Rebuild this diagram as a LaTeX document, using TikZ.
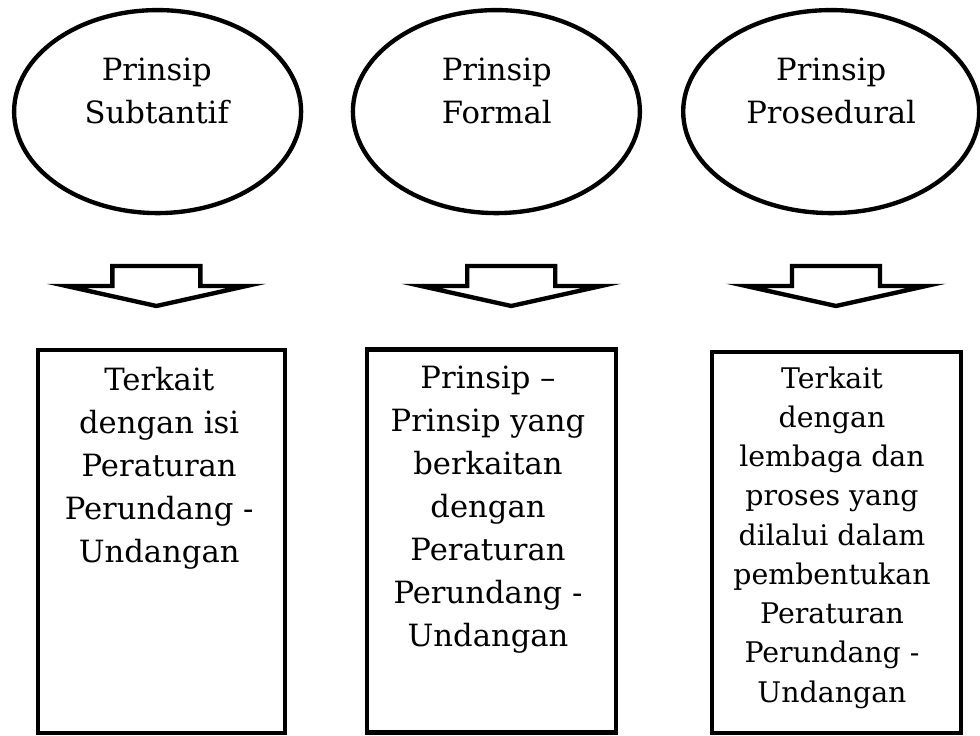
\documentclass[tikz,border=0pt]{standalone}
\usepackage{fontspec}
\setmainfont{DejaVu Serif}
\usetikzlibrary{shapes.geometric}

\tikzset{
  oval/.style={draw, ellipse, line width=3.1pt, inner sep=0pt, minimum width=7.175cm, minimum height=5.075cm},
  box/.style={draw, rectangle, line width=3.1pt, inner sep=0pt, minimum height=9.575cm},
  txt/.style={anchor=north, align=center, inner sep=0pt, font=\fontsize{21.8}{30.6}\selectfont},
  txtsmall/.style={txt, font=\fontsize{20.2}{27.9}\selectfont},
  downarrow/.style={draw, line width=3.1pt}
}

\begin{document}
\begin{tikzpicture}
                \useasboundingbox (0,0) rectangle (24.5,-18.4);

                % ovals
                \node[oval] (oval1) at (3.94,-2.79) {};
                \node[oval] (oval2) at (12.41,-2.79) {};
                \node[oval, minimum width=7.4cm] (oval3) at (20.78,-2.79) {};

                \node[txt] (ovaltxt1) at (3.92,-1.45) {Prinsip\\Subtantif};
                \node[txt] (ovaltxt2) at (12.42,-1.45) {Prinsip\\Formal};
                \node[txt] (ovaltxt3) at (20.78,-1.45) {Prinsip\\Prosedural};

                % arrows
                \draw[downarrow] (2.81,-6.65) -- (5.01,-6.65) -- (5.01,-7.15) -- (6.16,-7.15) -- (3.91,-7.65) -- (1.66,-7.15) -- (2.81,-7.15) -- cycle;
                \draw[downarrow] (11.68,-6.65) -- (13.88,-6.65) -- (13.88,-7.15) -- (15.03,-7.15) -- (12.78,-7.65) -- (10.53,-7.15) -- (11.68,-7.15) -- cycle;
                \draw[downarrow] (19.8,-6.65) -- (22.0,-6.65) -- (22.0,-7.15) -- (23.15,-7.15) -- (20.9,-7.65) -- (18.65,-7.15) -- (19.8,-7.15) -- cycle;

                % boxes
                \node[box, minimum width=6.175cm] (box1) at (4.04,-13.54) {};
                \node[box, minimum width=6.225cm] (box2) at (12.29,-13.525) {};
                \node[box, minimum width=6.225cm, minimum height=9.525cm] (box3) at (20.91,-13.56) {};

                \node[txt] (boxtxt1) at (3.98,-9.17) {Terkait\\dengan isi\\Peraturan\\Perundang -\\Undangan};
                \node[txt] (boxtxt2) at (12.2,-9.15) {Prinsip --\\Prinsip yang\\berkaitan\\dengan\\Peraturan\\Perundang -\\Undangan};
                \node[txtsmall] (boxtxt3) at (20.8,-9.16) {Terkait\\dengan\\lembaga dan\\proses yang\\dilalui dalam\\pembentukan\\Peraturan\\Perundang -\\Undangan};

            \end{tikzpicture}
\end{document}
